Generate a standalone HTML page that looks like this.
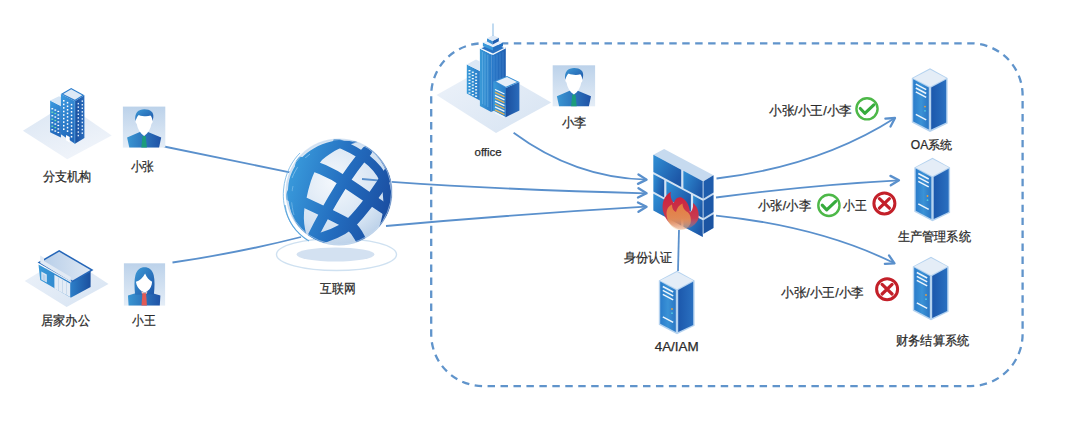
<!DOCTYPE html>
<html><head><meta charset="utf-8">
<style>
html,body{margin:0;padding:0;background:#fff;}
body{width:1080px;height:442px;overflow:hidden;position:relative;font-family:"Liberation Sans",sans-serif;}
svg{position:absolute;left:0;top:0;}
text{font-family:"Liberation Sans",sans-serif;fill:#2b2b2b;stroke:#2b2b2b;stroke-width:0.25px;font-size:12px;}
</style></head>
<body>
<svg width="1080" height="442" viewBox="0 0 1080 442">
<defs>
  <linearGradient id="avbg" x1="0" y1="0" x2="0" y2="1">
    <stop offset="0" stop-color="#bcd2ea"/><stop offset="1" stop-color="#e4edf7"/>
  </linearGradient>
  <linearGradient id="body" x1="0" y1="0" x2="1" y2="0">
    <stop offset="0" stop-color="#3a96d2"/><stop offset="1" stop-color="#1f52a6"/>
  </linearGradient>
  <linearGradient id="hair" x1="0" y1="0" x2="1" y2="1">
    <stop offset="0" stop-color="#3d9ad6"/><stop offset="1" stop-color="#1d55a8"/>
  </linearGradient>
  <linearGradient id="srvL" x1="0" y1="0" x2="1" y2="0">
    <stop offset="0" stop-color="#2a7ccb"/><stop offset="0.5" stop-color="#3a92d6"/><stop offset="1" stop-color="#2a76c4"/>
  </linearGradient>
  <linearGradient id="srvR" x1="0" y1="0" x2="1" y2="0">
    <stop offset="0" stop-color="#1c58ac"/><stop offset="1" stop-color="#2a70c0"/>
  </linearGradient>
  <linearGradient id="ground" x1="0" y1="0" x2="1" y2="1">
    <stop offset="0" stop-color="#eef3fa"/><stop offset="1" stop-color="#d6e3f2"/>
  </linearGradient>
  <radialGradient id="globeBg" cx="0.45" cy="0.4" r="0.65">
    <stop offset="0" stop-color="#f4f8fc"/><stop offset="0.7" stop-color="#d3e2f2"/><stop offset="1" stop-color="#b5cce6"/>
  </radialGradient>
  <linearGradient id="band" x1="0" y1="0" x2="1" y2="1">
    <stop offset="0" stop-color="#3d95d4"/><stop offset="1" stop-color="#1d58aa"/>
  </linearGradient>

  
  <linearGradient id="bldL" x1="0" y1="0" x2="1" y2="0">
    <stop offset="0" stop-color="#3a9ad8"/><stop offset="1" stop-color="#2a7cc8"/>
  </linearGradient>
  <linearGradient id="bldL2" x1="0" y1="0" x2="1" y2="1">
    <stop offset="0" stop-color="#3896d6"/><stop offset="1" stop-color="#2470c0"/>
  </linearGradient>
  <linearGradient id="bldR" x1="0" y1="0" x2="1" y2="0">
    <stop offset="0" stop-color="#1a4f9e"/><stop offset="1" stop-color="#2a6cbc"/>
  </linearGradient>

  
  <linearGradient id="homeR" x1="0" y1="0" x2="1" y2="0">
    <stop offset="0" stop-color="#2d7fc8"/><stop offset="1" stop-color="#1a4f9e"/>
  </linearGradient>
  <linearGradient id="roof" x1="0" y1="0" x2="1" y2="0">
    <stop offset="0" stop-color="#b6cde8"/><stop offset="1" stop-color="#dde7f3"/>
  </linearGradient>

  
  <linearGradient id="ofR" x1="0" y1="0" x2="1" y2="0">
    <stop offset="0" stop-color="#2a7ccc"/><stop offset="1" stop-color="#1f5eb0"/>
  </linearGradient>

  
  <linearGradient id="brick" x1="0" y1="0" x2="1" y2="0.3">
    <stop offset="0" stop-color="#3090d6"/><stop offset="1" stop-color="#1d58a8"/>
  </linearGradient>

  
  <linearGradient id="gband" gradientUnits="userSpaceOnUse" x1="290" y1="180" x2="395" y2="210">
    <stop offset="0" stop-color="#3898da"/><stop offset="0.5" stop-color="#236cbe"/><stop offset="1" stop-color="#1a4b9e"/>
  </linearGradient>

  
  <linearGradient id="flameR" x1="0" y1="0" x2="0" y2="1">
    <stop offset="0" stop-color="#cc1f3a"/><stop offset="0.7" stop-color="#c83a50"/><stop offset="1" stop-color="#d87a70" stop-opacity="0.3"/>
  </linearGradient>
  <linearGradient id="flameO" x1="0" y1="0" x2="0" y2="1">
    <stop offset="0" stop-color="#e88a3c"/><stop offset="0.6" stop-color="#e8a058" stop-opacity="0.9"/><stop offset="1" stop-color="#f0c080" stop-opacity="0.3"/>
  </linearGradient>

  
  <linearGradient id="bldV" x1="0" y1="0" x2="0.3" y2="1">
    <stop offset="0" stop-color="#3c9be0"/><stop offset="1" stop-color="#2168bb"/>
  </linearGradient>
  <linearGradient id="ground2" x1="0" y1="0" x2="0.6" y2="1">
    <stop offset="0" stop-color="#d9e5f3"/><stop offset="1" stop-color="#f0f4fa"/>
  </linearGradient>

  <!-- male avatar 42x41 -->
  <g id="man">
    <rect x="0" y="0" width="42.4" height="41" fill="url(#avbg)"/>
    <path d="M17.5,25.2 L24.5,25.2 L38.3,31 L36.2,41 L6.4,41 L4.2,31 Z" fill="url(#body)"/>
    <path d="M19.6,29.3 L22.8,29.3 L24,41 L18.4,41 Z" fill="#1c9c7c"/>
    <path d="M14,10 C14,6.5 28.5,6.5 28.5,10 L29.8,14.5 C29.8,16.5 29,17.2 28.6,17.2 C27.8,22 25.5,26.5 21.2,29.3 C16.9,26.5 14.6,22 13.8,17.2 C13.4,17.2 12.6,16.5 12.6,14.5 Z" fill="#fff"/>
    <path d="M12.6,14.5 C11.2,6 15.5,2.6 21.5,2.6 C27.5,2.6 31.2,5.5 30.4,11 L29.7,14.5 C29.4,11.5 28.6,9.8 27.5,9 C24.5,10.2 20,10 15.8,8.3 C14.2,9.8 13.2,12 12.6,14.5 Z" fill="url(#hair)"/>
  </g>
  <!-- female avatar -->
  <g id="woman">
    <rect x="0" y="0" width="41.2" height="42.3" fill="url(#avbg)"/>
    <path d="M16.5,28.5 L23.5,28.5 L36.5,32.3 L35.9,42.3 L4.7,42.3 L4.1,32.3 Z" fill="url(#body)"/>
    <path d="M11.2,31.5 C10.5,24 10.2,17 11.5,12 C13,6.5 16.5,4 20.6,4 C25,4 28.5,6.5 29.8,12 C31,17 30.8,24 30,31 Z" fill="url(#hair)"/>
    <path d="M12,18.5 C15.5,17.5 19,14.5 21.2,10.2 C22.8,14 25,17 28.2,18.4 C28,22.5 26.5,25.5 23.8,27.5 L21.2,29.5 L17.2,27.5 C14.5,25.5 12.5,22.5 12,18.5 Z" fill="#fff"/>
    <path d="M17.5,27.8 L21.2,29.8 L23.5,28 L23,30.5 L18,30.5 Z" fill="#f4c8c0"/>
    <path d="M18.5,30 L22.2,30 L23,42.3 L17.6,42.3 Z" fill="#e15a55"/>
  </g>
  <!-- server: origin at top vertex -->
  <g id="server">
    <path d="M0,-0.3 L17.6,9.5 L17.6,54.8 L0,63.3 L-18.2,53.8 L-18.2,9.5 Z" fill="#b4d2ef"/>
    <path d="M-16.8,10.6 L-1.2,19 L-1.2,61 L-16.8,52.8 Z" fill="url(#srvL)"/>
    <path d="M1.2,19 L16.2,10.8 L16.2,54 L1.2,61 Z" fill="url(#srvR)"/>
    <path d="M0,1 L16.4,9.6 L0,18.2 L-16.9,9.6 Z" fill="#e4edf7"/>
    <path d="M-14.2,15.5 L-3.8,21 M-14.2,19.4 L-3.8,24.9 M-14.2,23.3 L-3.8,28.8 M-14.2,45.8 L-3.8,51.3" stroke="#eef5fc" stroke-width="1.5" fill="none"/>
    <circle cx="-5" cy="38" r="0.9" fill="#e8a040"/>
    <circle cx="-5" cy="42.2" r="0.9" fill="#50c8e0"/>
  </g>
  <g id="arrowhead">
    <path d="M-8.4,-4.7 L0,0 L-8.4,4.7" fill="none" stroke="#5a90cc" stroke-width="2.3" stroke-linecap="round" stroke-linejoin="round"/>
  </g>
</defs>

<!-- dashed container -->
<rect x="431.2" y="43.3" width="591.4" height="342.8" rx="52" ry="52" fill="none" stroke="#6094cb" stroke-width="2.3" stroke-dasharray="7.45,5.504" stroke-dashoffset="8.24"/>

<!-- connector lines -->
<g stroke="#5a90cc" stroke-width="1.8" fill="none">
  <path d="M164,146.5 L291,172.6"/>
  <path d="M172.5,262.5 Q238,253 301,237"/>
  <path d="M391.5,181.8 Q510,190 646,193.3"/>
  <path d="M386,226 Q520,214 646,206.7"/>
  <path d="M513.6,132.7 Q575,178 646.6,179.6"/>
  <path d="M679,230 L678,271"/>
  <path d="M716.5,178.5 Q820,166 895,118"/>
  <path d="M716,197.5 Q810,185 899,180.3"/>
  <path d="M716,215.6 Q820,226.5 894.5,263.3"/>
</g>
<use href="#arrowhead" transform="translate(646.6,179.6) rotate(3)"/>
<use href="#arrowhead" transform="translate(646.6,193.3) rotate(3)"/>
<use href="#arrowhead" transform="translate(646.6,206.7) rotate(-3)"/>
<use href="#arrowhead" transform="translate(895,118) rotate(-33)"/>
<use href="#arrowhead" transform="translate(899,180.3) rotate(-2)"/>
<use href="#arrowhead" transform="translate(894.5,263.3) rotate(26)"/>


<!-- globe -->
<g id="globeG">
  <ellipse cx="336.5" cy="254.5" rx="60" ry="16" fill="none" stroke="#cfe1f1" stroke-width="1.4"/>
  <ellipse cx="335.5" cy="254.5" rx="39" ry="7" fill="#d3e1f1"/>
  <clipPath id="gclip"><circle cx="339" cy="192" r="53"/></clipPath>
  <circle cx="339" cy="192" r="53.5" fill="url(#globeBg)"/>
  <g clip-path="url(#gclip)" fill="none" stroke="url(#gband)">
    <path d="M362,179 L393,181.8" stroke="#5a90cc" stroke-width="1.8"/>
    <!-- A limb crescent -->
    <path d="M309,241 C292,224 286,202 288.5,184 C292,162 310,145 336,140.5 L364,141 C346,144 332,151 322,160 C314,170 310,182 307,196 C303,210 302,226 309,241 Z" fill="url(#gband)" stroke="none"/>
    <path d="M292,178 C296,168 302,160 310,154" stroke="#9fd0f2" stroke-width="0.8" opacity="0.8"/>
    <path d="M294,215 C291,205 291,195 293,186" stroke="#9fd0f2" stroke-width="0.7" opacity="0.7"/>
    <!-- B -->
    <path d="M311,240 C325,212 343,178 367,151" stroke-width="10.5" stroke-linecap="round"/>
    <!-- C -->
    <path d="M309,241 C325,238 340,232 350,224 C362,212 376,194 392,168" stroke-width="11"/>
    <!-- D -->
    <path d="M296,161 C318,166 335,175 345,182 C358,190 375,203 396,216" stroke-width="11"/>
    <!-- E -->
    <path d="M286,194 C310,205 335,216 350,225 C358,232 362,242 366,252" stroke-width="10.5"/>
    <!-- F -->
    <path d="M333,141 C360,151 377,164 384,180 C389,195 389,212 383,229" stroke-width="8.5"/>
    <path d="M372,150 C386,162 392,180 392.5,198" stroke-width="2" opacity="0.8"/>
  </g>
  <circle cx="339" cy="192" r="52.5" fill="none" stroke="#c7dbf0" stroke-width="1" opacity="0.6"/>
  <path d="M307,240 C289,228 282,208 283.5,190 C285,172 293,160 300,153" fill="none" stroke="#6fb2e4" stroke-width="1" opacity="0.8"/>
  <path d="M309,241 C296,233 287,220 285,205" fill="none" stroke="#3d96d6" stroke-width="1.2" opacity="0.7"/>
</g>

<!-- branch building -->
<g id="branch">
  <path d="M22.9,130.7 L66,104 L111.7,135.4 L67.3,159.2 Z" fill="url(#ground2)"/>
  <path d="M50.1,100.6 L60.9,106 L60.9,137.5 L50.1,132.2 Z" fill="url(#bldV)"/>
  <path d="M50.1,100.6 L59,96.2 L60.9,97.2 L60.9,106 Z" fill="#d5e5f5"/>
  <path d="M60.9,94.1 L74.9,101.2 L74.9,143.8 L60.9,134.3 Z" fill="url(#bldV)"/>
  <path d="M74.9,101.2 L84.4,95.3 L84.4,138 L74.9,143.8 Z" fill="url(#bldR)"/>
  <path d="M60.9,94.1 L71.2,87.9 L84.4,95.3 L74.9,101.2 Z" fill="#2a7ccc"/>
  <path d="M63.2,94.1 L71.2,89.3 L82.2,95.3 L74.9,99.8 Z" fill="#dde9f6"/>
  <path d="M74.9,101.2 L74.9,143.8" stroke="#5fb0ea" stroke-width="0.6"/>
  <rect x="63.0" y="100.0" width="1.5" height="1.6" fill="#fff"/>
  <rect x="63.0" y="103.6" width="1.5" height="1.6" fill="#fff"/>
  <rect x="63.0" y="107.1" width="1.5" height="1.6" fill="#fff"/>
  <rect x="63.0" y="110.7" width="1.5" height="1.6" fill="#fff"/>
  <rect x="63.0" y="114.2" width="1.5" height="1.6" fill="#fff"/>
  <rect x="63.0" y="117.8" width="1.5" height="1.6" fill="#fff"/>
  <rect x="63.0" y="121.3" width="1.5" height="1.6" fill="#fff"/>
  <rect x="63.0" y="124.9" width="1.5" height="1.6" fill="#fff"/>
  <rect x="63.0" y="128.4" width="1.5" height="1.6" fill="#fff"/>
  <rect x="66.8" y="101.9" width="1.5" height="1.6" fill="#fff"/>
  <rect x="66.8" y="105.5" width="1.5" height="1.6" fill="#fff"/>
  <rect x="66.8" y="109.0" width="1.5" height="1.6" fill="#fff"/>
  <rect x="66.8" y="112.6" width="1.5" height="1.6" fill="#fff"/>
  <rect x="66.8" y="116.1" width="1.5" height="1.6" fill="#fff"/>
  <rect x="66.8" y="119.7" width="1.5" height="1.6" fill="#fff"/>
  <rect x="66.8" y="123.2" width="1.5" height="1.6" fill="#fff"/>
  <rect x="66.8" y="126.8" width="1.5" height="1.6" fill="#fff"/>
  <rect x="66.8" y="130.3" width="1.5" height="1.6" fill="#fff"/>
  <rect x="70.8" y="103.9" width="1.5" height="1.6" fill="#fff"/>
  <rect x="70.8" y="107.5" width="1.5" height="1.6" fill="#fff"/>
  <rect x="70.8" y="111.0" width="1.5" height="1.6" fill="#fff"/>
  <rect x="70.8" y="114.6" width="1.5" height="1.6" fill="#fff"/>
  <rect x="70.8" y="118.1" width="1.5" height="1.6" fill="#fff"/>
  <rect x="70.8" y="121.7" width="1.5" height="1.6" fill="#fff"/>
  <rect x="70.8" y="125.2" width="1.5" height="1.6" fill="#fff"/>
  <rect x="70.8" y="128.8" width="1.5" height="1.6" fill="#fff"/>
  <rect x="70.8" y="132.3" width="1.5" height="1.6" fill="#fff"/>
  <rect x="70.8" y="135.9" width="1.5" height="1.6" fill="#fff"/>
  <rect x="77.6" y="102.9" width="1.4" height="1.5" fill="#dcecfb"/>
  <rect x="77.6" y="106.4" width="1.4" height="1.5" fill="#dcecfb"/>
  <rect x="77.6" y="110.0" width="1.4" height="1.5" fill="#dcecfb"/>
  <rect x="77.6" y="113.5" width="1.4" height="1.5" fill="#dcecfb"/>
  <rect x="77.6" y="117.1" width="1.4" height="1.5" fill="#dcecfb"/>
  <rect x="77.6" y="120.6" width="1.4" height="1.5" fill="#dcecfb"/>
  <rect x="77.6" y="124.2" width="1.4" height="1.5" fill="#dcecfb"/>
  <rect x="77.6" y="127.7" width="1.4" height="1.5" fill="#dcecfb"/>
  <rect x="77.6" y="131.3" width="1.4" height="1.5" fill="#dcecfb"/>
  <rect x="77.6" y="134.8" width="1.4" height="1.5" fill="#dcecfb"/>
  <rect x="81.6" y="100.4" width="1.4" height="1.5" fill="#dcecfb"/>
  <rect x="81.6" y="104.0" width="1.4" height="1.5" fill="#dcecfb"/>
  <rect x="81.6" y="107.5" width="1.4" height="1.5" fill="#dcecfb"/>
  <rect x="81.6" y="111.1" width="1.4" height="1.5" fill="#dcecfb"/>
  <rect x="81.6" y="114.6" width="1.4" height="1.5" fill="#dcecfb"/>
  <rect x="81.6" y="118.2" width="1.4" height="1.5" fill="#dcecfb"/>
  <rect x="81.6" y="121.7" width="1.4" height="1.5" fill="#dcecfb"/>
  <rect x="81.6" y="125.3" width="1.4" height="1.5" fill="#dcecfb"/>
  <rect x="81.6" y="128.8" width="1.4" height="1.5" fill="#dcecfb"/>
  <rect x="81.6" y="132.4" width="1.4" height="1.5" fill="#dcecfb"/>
  <rect x="51.4" y="108.1" width="1.8" height="1.3" fill="#fff"/>
  <rect x="51.4" y="111.6" width="1.8" height="1.3" fill="#6fe0b0"/>
  <rect x="51.4" y="115.1" width="1.8" height="1.3" fill="#fff"/>
  <rect x="51.4" y="118.6" width="1.8" height="1.3" fill="#6fe0b0"/>
  <rect x="51.4" y="122.1" width="1.8" height="1.3" fill="#fff"/>
  <rect x="51.4" y="125.6" width="1.8" height="1.3" fill="#6fe0b0"/>
  <rect x="51.4" y="129.1" width="1.8" height="1.3" fill="#fff"/>
  <rect x="54.4" y="109.4" width="1.8" height="1.3" fill="#fff"/>
  <rect x="54.4" y="112.9" width="1.8" height="1.3" fill="#6fe0b0"/>
  <rect x="54.4" y="116.4" width="1.8" height="1.3" fill="#fff"/>
  <rect x="54.4" y="119.9" width="1.8" height="1.3" fill="#6fe0b0"/>
  <rect x="54.4" y="123.4" width="1.8" height="1.3" fill="#fff"/>
  <rect x="54.4" y="126.9" width="1.8" height="1.3" fill="#6fe0b0"/>
  <rect x="54.4" y="130.4" width="1.8" height="1.3" fill="#fff"/>
  <rect x="57.4" y="110.8" width="1.8" height="1.3" fill="#fff"/>
  <rect x="57.4" y="114.3" width="1.8" height="1.3" fill="#fff"/>
  <rect x="57.4" y="117.8" width="1.8" height="1.3" fill="#fff"/>
  <rect x="57.4" y="121.3" width="1.8" height="1.3" fill="#fff"/>
  <rect x="57.4" y="124.8" width="1.8" height="1.3" fill="#fff"/>
  <rect x="57.4" y="128.3" width="1.8" height="1.3" fill="#fff"/>
  <rect x="57.4" y="131.8" width="1.8" height="1.3" fill="#fff"/>
  <path d="M66,135 L69.7,137 L69.7,142.4 L66,140.2 Z" fill="#fff"/>
</g>

<!-- home office -->
<g id="home">
  <path d="M24.7,281 L66,256 L108.5,284 L66.6,307 Z" fill="url(#ground)"/>
  <path d="M38.5,264.5 L70.7,282.5 L70.7,297.5 L40.2,280 Z" fill="url(#bldL)"/>
  <path d="M70.7,282.5 L90.6,271 L90.6,287 L70.7,297.8 Z" fill="url(#homeR)"/>
  <path d="M41.3,271.5 L46.8,274.5 L46.8,282.5 L41.3,279.5 Z" fill="#d8e6f4"/>
  <path d="M42.5,273.8 L45.6,275.5 L45.6,281.5 L42.5,279.8 Z" fill="#b9d2ec"/>
  <path d="M54.4,274.8 L70,283.5 L70,297 L54.4,288.5 Z" fill="#e4ecf6"/>
  <path d="M58.5,277.5 L58.5,291 M62.5,279.5 L62.5,293.2 M66.5,281.8 L66.5,295.5" stroke="#c2d5ea" stroke-width="0.8"/>
  <path d="M37.6,262.4 L59.2,250 L93.5,270 L72.5,282.3 Z" fill="#2566b8"/>
  <path d="M40.5,262.4 L59.2,251.8 L90.5,270 L72.5,280.5 Z" fill="url(#roof)"/>
  <path d="M40.2,255.5 L40.2,263 L70.8,281.5 L70.8,277 L44,261 L44,257.8 Z" fill="#e2eaf4"/>
</g>


<!-- office building -->
<g id="office">
  <path d="M436.5,95 L488,66 L551.3,102.4 L496,133 Z" fill="url(#ground)"/>
  <!-- main tower -->
  <path d="M479.9,48.5 L491.2,54.5 L491.2,112 L479.9,106 Z" fill="url(#bldL)"/>
  <path d="M491.2,54.5 L505.8,47.5 L505.8,105 L491.2,112 Z" fill="url(#ofR)"/>
  <path d="M482.5,52 L482.5,104 M485,53.4 L485,105.5 M487.8,54.8 L487.8,107" stroke="#7cc0ee" stroke-width="0.6" opacity="0.8"/>
  <path d="M494,56 L494,110 M497,54.6 L497,108.5 M500,53.2 L500,107 M503,51.8 L503,105.5" stroke="#5aa0e0" stroke-width="0.6" opacity="0.7"/>
  <path d="M479,48.3 L493,55 L506.5,48 L493,41.5 Z" fill="#f4f8fc"/>
  <path d="M481.5,48.3 L493,53.6 L504,48 L493,43 Z" fill="#2a72c2"/>
  <path d="M482.9,42.6 L493,47.2 L493,50.6 L482.9,46.3 Z" fill="#3a98da"/>
  <path d="M493,47.2 L503,42.4 L503,46.3 L493,50.6 Z" fill="#2470c0"/>
  <path d="M482.9,42.6 L493,38.6 L503,42.4 L493,47.2 Z" fill="#e8f0fa"/>
  <path d="M487,38.2 L492.6,41 L492.6,44.6 L487,41.5 Z" fill="#3a90d4"/>
  <path d="M492.6,41 L498.8,37.8 L498.8,41.2 L492.6,44.6 Z" fill="#1f5fb0"/>
  <path d="M487,38.2 L493,35.2 L498.8,37.8 L492.6,41 Z" fill="#dce8f6"/>
  <path d="M493,23.4 L493,36" stroke="#8fbde6" stroke-width="1.1"/>
  <!-- left tower -->
  <path d="M466.8,64.5 L479.9,71 L479.9,100.5 L466.8,93.4 Z" fill="url(#bldL)"/>
  <path d="M466.8,64.5 L476,59.5 L479.9,61.5 L479.9,71 Z" fill="#dce8f5"/>
  <rect x="468.5" y="70.0" width="2" height="1.3" fill="#fff" opacity="0.95"/>
  <rect x="471.8" y="71.6" width="2" height="1.3" fill="#fff" opacity="0.95"/>
  <rect x="475.1" y="73.2" width="2" height="1.3" fill="#fff" opacity="0.95"/>
  <rect x="468.5" y="73.2" width="2" height="1.3" fill="#fff" opacity="0.95"/>
  <rect x="471.8" y="74.8" width="2" height="1.3" fill="#fff" opacity="0.95"/>
  <rect x="475.1" y="76.4" width="2" height="1.3" fill="#fff" opacity="0.95"/>
  <rect x="468.5" y="76.4" width="2" height="1.3" fill="#fff" opacity="0.95"/>
  <rect x="471.8" y="78.0" width="2" height="1.3" fill="#fff" opacity="0.95"/>
  <rect x="475.1" y="79.6" width="2" height="1.3" fill="#fff" opacity="0.95"/>
  <rect x="468.5" y="79.6" width="2" height="1.3" fill="#fff" opacity="0.95"/>
  <rect x="471.8" y="81.2" width="2" height="1.3" fill="#fff" opacity="0.95"/>
  <rect x="475.1" y="82.8" width="2" height="1.3" fill="#fff" opacity="0.95"/>
  <rect x="468.5" y="82.8" width="2" height="1.3" fill="#fff" opacity="0.95"/>
  <rect x="471.8" y="84.4" width="2" height="1.3" fill="#fff" opacity="0.95"/>
  <rect x="475.1" y="86.0" width="2" height="1.3" fill="#fff" opacity="0.95"/>
  <rect x="468.5" y="86.0" width="2" height="1.3" fill="#fff" opacity="0.95"/>
  <rect x="471.8" y="87.6" width="2" height="1.3" fill="#fff" opacity="0.95"/>
  <rect x="475.1" y="89.2" width="2" height="1.3" fill="#fff" opacity="0.95"/>
  <rect x="468.5" y="89.2" width="2" height="1.3" fill="#fff" opacity="0.95"/>
  <rect x="471.8" y="90.8" width="2" height="1.3" fill="#fff" opacity="0.95"/>
  <rect x="475.1" y="92.4" width="2" height="1.3" fill="#fff" opacity="0.95"/>
  <rect x="468.5" y="92.4" width="2" height="1.3" fill="#fff" opacity="0.95"/>
  <rect x="471.8" y="94.0" width="2" height="1.3" fill="#fff" opacity="0.95"/>
  <rect x="475.1" y="95.6" width="2" height="1.3" fill="#fff" opacity="0.95"/>
  <!-- front tower -->
  <path d="M493.4,81.5 L505.8,88 L505.8,117.2 L493.4,110.4 Z" fill="url(#bldL)"/>
  <path d="M505.8,88 L519.4,82 L519.4,110.4 L505.8,117.2 Z" fill="url(#bldR)"/>
  <path d="M493.4,81.5 L507,76 L519.4,82 L505.8,88 Z" fill="#3a8fd4"/>
  <path d="M496,81.5 L507,77 L517,82 L505.8,86.8 Z" fill="#e6eef8"/>
  <path d="M495,89.5 L504.5,94.0" stroke="#f2f6fb" stroke-width="1.3"/>
  <path d="M495,92.4 L504.5,96.9" stroke="#e9b456" stroke-width="1.3"/>
  <path d="M495,95.3 L504.5,99.8" stroke="#f2f6fb" stroke-width="1.3"/>
  <path d="M495,98.2 L504.5,102.7" stroke="#e9b456" stroke-width="1.3"/>
  <path d="M495,101.1 L504.5,105.6" stroke="#f2f6fb" stroke-width="1.3"/>
  <path d="M495,104.0 L504.5,108.5" stroke="#e9b456" stroke-width="1.3"/>
  <path d="M495,106.9 L504.5,111.4" stroke="#f2f6fb" stroke-width="1.3"/>
  <path d="M495,109.8 L504.5,114.3" stroke="#e9b456" stroke-width="1.3"/>
  <path d="M495,112.7 L504.5,117.2" stroke="#f2f6fb" stroke-width="1.3"/>
</g>


<!-- firewall -->
<g id="firewall">
  <path d="M653.4,154.8 L664.1,149 L713.5,175.2 L702.8,181.7 Z" fill="#c6daef"/>
  <g transform="matrix(1,0.535,0,1,653.4,154.8)">
    <rect x="0" y="0" width="49.4" height="55.8" fill="#d3e3f3"/>
    <rect x="0" y="0" width="27.8" height="17.3" fill="url(#brick)"/>
    <rect x="30" y="0" width="19.4" height="17.3" fill="url(#brick)"/>
    <rect x="0" y="19.5" width="10.8" height="17.3" fill="url(#brick)"/>
    <rect x="13" y="19.5" width="24.5" height="17.3" fill="url(#brick)"/>
    <rect x="39.7" y="19.5" width="9.7" height="17.3" fill="url(#brick)"/>
    <rect x="0" y="39" width="27.8" height="16.8" fill="url(#brick)"/>
    <rect x="30" y="39" width="19.4" height="16.8" fill="url(#brick)"/>
  </g>
  <g transform="matrix(1,-0.6,0,1,702.8,181.7)">
    <rect x="0" y="0" width="10.7" height="52.6" fill="#c3d7ee"/>
    <rect x="0.8" y="0" width="9.9" height="17.3" fill="#1f5cac"/>
    <rect x="0.8" y="19.5" width="9.9" height="17.3" fill="#1d58a8"/>
    <rect x="0.8" y="39" width="9.9" height="13.6" fill="#1b54a2"/>
  </g>
  <!-- flame -->
  <path d="M670.8,191.8 C664,196 661.5,203 663,211 C665,220 672,227 679,229.5 C689,230 697,225 698.5,218 C699.5,211.5 697,206 693,203 C693.5,208 692,211 690,212.5 C689.5,205 686,199.5 681.5,197.5 C677.5,196.5 675,199 673.8,203 C671,199.5 670,195.5 670.8,191.8 Z" fill="url(#flameR)"/>
  <path d="M666.5,214 C666.5,208.5 669.5,205.5 672,204.5 C672,208.5 673.5,211 676,212 C677,208 679,205 682.5,203.5 C682.5,208 685,210.5 687.5,212 C690.5,214.5 691.5,219 690.5,223.5 C688.5,228.5 683.5,230.5 678.5,230 C672,228.5 667,222 666.5,214 Z" fill="url(#flameO)" opacity="0.85"/>
</g>

<!-- avatars -->
<use href="#man" transform="translate(122.9,106.6)"/>
<use href="#woman" transform="translate(123.9,263.3)"/>
<use href="#man" transform="translate(552.7,65.3)"/>

<!-- servers -->
<use href="#server" transform="translate(930,68.6)"/>
<use href="#server" transform="translate(932.5,158)"/>
<use href="#server" transform="translate(931,257)"/>
<use href="#server" transform="translate(677,271)"/>

<!-- labels -->
<text x="42.9" y="181" textLength="48.5" style="font-size:13px" lengthAdjust="spacingAndGlyphs">分支机构</text>
<text x="130.5" y="171" textLength="23.6" style="font-size:13px" lengthAdjust="spacingAndGlyphs">小张</text>
<text x="41" y="324.5" textLength="48.8" style="font-size:13px" lengthAdjust="spacingAndGlyphs">居家办公</text>
<text x="132" y="324.5" textLength="23.4" style="font-size:13px" lengthAdjust="spacingAndGlyphs">小王</text>
<text x="320.3" y="293" textLength="35.5" style="font-size:13px" lengthAdjust="spacingAndGlyphs">互联网</text>
<text x="474.5" y="155.7" textLength="27.2" style="font-size:11px" lengthAdjust="spacingAndGlyphs">office</text>
<text x="561.6" y="127" textLength="24.6" style="font-size:13px" lengthAdjust="spacingAndGlyphs">小李</text>
<text x="623.6" y="262" textLength="48.5" style="font-size:13px" lengthAdjust="spacingAndGlyphs">身份认证</text>
<text x="654.7" y="351" textLength="44" lengthAdjust="spacingAndGlyphs">4A/IAM</text>
<text x="910.8" y="149" textLength="41.5" lengthAdjust="spacingAndGlyphs">OA系统</text>
<text x="897.8" y="241" textLength="73" style="font-size:13px" lengthAdjust="spacingAndGlyphs">生产管理系统</text>
<text x="896" y="345" textLength="73" style="font-size:13px" lengthAdjust="spacingAndGlyphs">财务结算系统</text>
<text x="769" y="115" textLength="83" lengthAdjust="spacingAndGlyphs" style="font-size:13px">小张/小王/小李</text>
<text x="758" y="210" textLength="53" lengthAdjust="spacingAndGlyphs" style="font-size:13px">小张/小李</text>
<text x="842.8" y="210" textLength="23.6" lengthAdjust="spacingAndGlyphs" style="font-size:13px">小王</text>
<text x="781" y="296.5" textLength="83" lengthAdjust="spacingAndGlyphs" style="font-size:13px">小张/小王/小李</text>

<!-- check / cross icons -->
<g fill="none" stroke-linecap="round" stroke-linejoin="round">
  <circle cx="867" cy="108.8" r="10.6" stroke="#4db848" stroke-width="2.4"/>
  <path d="M860.3,108.5 L864.8,113.3 L873.8,104.8" stroke="#36ab3c" stroke-width="3.1"/>
  <circle cx="828.9" cy="205.4" r="10.6" stroke="#4db848" stroke-width="2.4"/>
  <path d="M822.2,205.1 L826.7,209.9 L835.7,201.4" stroke="#36ab3c" stroke-width="3.1"/>
  <circle cx="884.4" cy="203.4" r="10.5" stroke="#c32029" stroke-width="3"/>
  <path d="M879.4,198.6 L889.4,208.2 M889.4,198.6 L879.4,208.2" stroke="#c32029" stroke-width="3.2"/>
  <circle cx="887.1" cy="289.2" r="10.5" stroke="#c32029" stroke-width="3"/>
  <path d="M882.1,284.4 L892.1,294 M892.1,284.4 L882.1,294" stroke="#c32029" stroke-width="3.2"/>
</g>

</svg>
</body></html>
